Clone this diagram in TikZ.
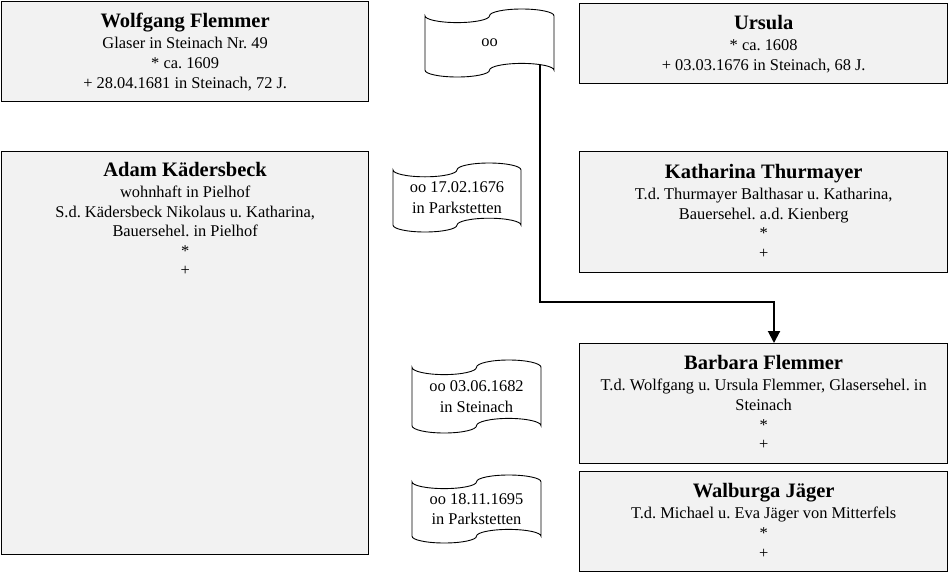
\documentclass[tikz,border=0pt]{standalone}
\usepackage{fontspec}
\setmainfont{Liberation Serif}
\usetikzlibrary{arrows.meta,calc}
\definecolor{boxfill}{HTML}{F2F2F2}
\frenchspacing
\tikzset{
  person/.style={draw=black, line width=1.3pt, fill=boxfill, inner sep=0pt, anchor=north west, minimum width=367pt},
  ptext/.style={anchor=north, inner sep=0pt, align=center, font=\fontsize{16.4}{19.6}\selectfont},
  tapetext/.style={inner sep=0pt, align=center, font=\fontsize{16.4}{20.5}\selectfont},
  tapeline/.style={draw=black, line width=0.9pt, fill=white},
  link/.style={line width=2pt, -{Triangle[width=12pt,length=12pt]}},
}
\newcommand\ptitle[1]{\rule{0pt}{20pt}{\fontsize{20.5}{19.6}\selectfont\bfseries #1}\\[1.6pt]}
% #1 name, #2 left x, #3 top y, #4 width, #5 height, #6 text
\newcommand\tape[6]{%
  \draw[tapeline] (#2,{-#3-0.1*#5})
    arc[start angle=180,end angle=360,x radius={#4/4},y radius={#5/10}]
    arc[start angle=180,end angle=0,x radius={#4/4},y radius={#5/10}]
    -- ({#2+#4},{-#3-0.9*#5})
    arc[start angle=0,end angle=180,x radius={#4/4},y radius={#5/10}]
    arc[start angle=0,end angle=-180,x radius={#4/4},y radius={#5/10}]
    -- cycle;
  \node[tapetext, minimum width=#4pt, minimum height=#5pt] (#1) at ({#2+#4/2},{-#3-#5/2}) {#6};
}
\begin{document}
\frenchspacing
\begin{tikzpicture}[x=1pt,y=1pt]
\useasboundingbox (0,0) rectangle (948,-573);

% person boxes
\node[person, minimum height=100pt] (wf) at (1,-1) {};
\node[ptext] (wft) at ([yshift=-6.5pt]wf.north) {\ptitle{Wolfgang Flemmer}Glaser in Steinach Nr. 49\\* ca. 1609\\+ 28.04.1681 in Steinach, 72 J.};

\node[person, minimum height=403pt] (ad) at (1,-151) {};
\node[ptext] (adt) at ([yshift=-5pt]ad.north) {\ptitle{Adam Kädersbeck}wohnhaft in Pielhof\\S.d. Kädersbeck Nikolaus u. Katharina,\\Bauersehel. in Pielhof\\*\\+};

\node[person, minimum width=368pt, minimum height=80pt] (ur) at (579,-3) {};
\node[ptext] (urt) at ([yshift=-6.5pt]ur.north) {\ptitle{Ursula}* ca. 1608\\+ 03.03.1676 in Steinach, 68 J.};

\node[person, minimum width=368pt, minimum height=121pt] (ka) at (579,-151) {};
\node[ptext] (kat) at ([yshift=-7pt]ka.north) {\ptitle{Katharina Thurmayer}T.d. Thurmayer Balthasar u. Katharina,\\Bauersehel. a.d. Kienberg\\*\\+};

\node[person, minimum width=368pt, minimum height=120pt] (ba) at (579,-343) {};
\node[ptext] (bat) at ([yshift=-6.5pt]ba.north) {\ptitle{Barbara Flemmer}T.d. Wolfgang u. Ursula Flemmer, Glasersehel. in\\Steinach\\*\\+};

\node[person, minimum width=368pt, minimum height=100pt] (wa) at (579,-471) {};
\node[ptext] (wat) at ([yshift=-6.5pt]wa.north) {\ptitle{Walburga Jäger}T.d. Michael u. Eva Jäger von Mitterfels\\*\\+};

% connector (drawn below the flag)
\coordinate (ooexit) at (540,-45);
\coordinate (elbow) at (774,-302);
\draw[link] (ooexit) |- (elbow) -- (elbow |- ba.north);

% marriage flags
\tape{oo}{425}{9}{129}{68}{oo}
\tape{m1}{393}{163}{128}{69}{oo 17.02.1676\\in Parkstetten}
\tape{m2}{412}{360}{129}{73}{oo 03.06.1682\\in Steinach}
\tape{m3}{412}{475}{129}{68}{oo 18.11.1695\\in Parkstetten}
\end{tikzpicture}
\end{document}
